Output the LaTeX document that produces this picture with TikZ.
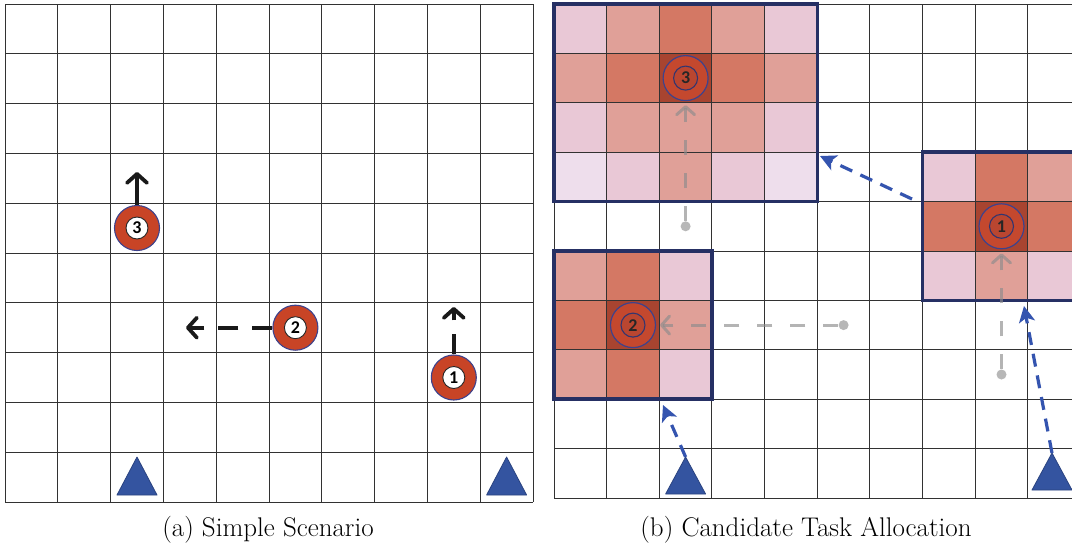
\documentclass[tikz,border=0pt]{standalone}
\usepackage{fontspec}
\newfontfamily\numfont{Carlito}
\usetikzlibrary{arrows.meta}
\definecolor{gridc}{RGB}{50,50,50}
\definecolor{ringred}{RGB}{200,68,38}
\definecolor{ringredb}{RGB}{196,72,46}
\definecolor{ringedge}{RGB}{62,66,140}
\definecolor{coreb}{RGB}{186,70,48}
\definecolor{triblue}{RGB}{52,84,160}
\definecolor{arrblue}{RGB}{52,84,175}
\definecolor{boxnavy}{RGB}{38,48,100}
\definecolor{hA}{RGB}{238,222,236}
\definecolor{hB}{RGB}{233,200,214}
\definecolor{hC}{RGB}{224,160,152}
\definecolor{hD}{RGB}{212,120,100}
\definecolor{hE}{RGB}{168,68,48}
\tikzset{
  gridline/.style={draw=gridc, line width=1pt},
  taskring/.style={circle, fill=ringred, draw=ringedge, line width=1.1pt, minimum size=45pt, inner sep=0pt},
  taskcore/.style={circle, fill=white, draw=black!85, line width=0.9pt, minimum size=22pt, inner sep=0pt, font=\numfont\bfseries\fontsize{18}{18}\selectfont},
  taskringb/.style={circle, fill=ringredb, draw=ringedge, line width=1.2pt, minimum size=45pt, inner sep=0pt},
  taskcoreb/.style={circle, fill=coreb, draw=ringedge!80!black, line width=1.1pt, minimum size=24pt, inner sep=0pt, text=black!85, font=\numfont\bfseries\fontsize{18}{18}\selectfont},
  movearrow/.style={draw=black!90, line width=3.8pt, -{Straight Barb[length=9pt, width=20pt, line cap=round, line join=round]}},
  movedash/.style={movearrow, dash pattern=on 20pt off 14pt},
  ghostarrow/.style={draw=black!45, draw opacity=.65, line width=3pt, dash pattern=on 15pt off 18pt, shorten >=4pt, -{Straight Barb[length=8pt, width=18pt, line cap=round, line join=round]}},
  ghostdot/.style={circle, fill=black!35, fill opacity=.8, minimum size=10pt, inner sep=0pt},
  bluearrow/.style={draw=arrblue, line width=3.2pt, dash pattern=on 13pt off 9pt, -{Stealth[length=16pt, width=16pt, inset=4pt]}},
  heatbox/.style={draw=boxnavy, line width=3.5pt},
  tri/.style={fill=triblue, draw=triblue!80!black, line width=0.8pt, line join=round},
  caption/.style={font=\fontsize{27}{32}\selectfont}
}
\begin{document}
\begin{tikzpicture}[x=1pt, y=-1pt]
\useasboundingbox (0,0) rectangle (1072,550);
\clip (0,0) rectangle (1072,550);
\fill[white] (0,0) rectangle (1072,550);

% ---------- left grid ----------
\foreach \i in {0,...,10} {
  \draw[gridline] ({5+52.8*\i},4) -- ({5+52.8*\i},502);
  \draw[gridline] (5,{4+49.8*\i}) -- (533,{4+49.8*\i});
}

% ---------- right grid: heat cells ----------
\foreach \cc/\rr/\hh in {
  0/0/hB,1/0/hC,2/0/hD,3/0/hC,4/0/hB,
  0/1/hC,1/1/hD,2/1/hE,3/1/hD,4/1/hC,
  0/2/hB,1/2/hC,2/2/hC,3/2/hC,4/2/hB,
  0/3/hA,1/3/hB,2/3/hC,3/3/hB,4/3/hA,
  0/5/hC,1/5/hD,2/5/hB,
  0/6/hD,1/6/hE,2/6/hC,
  0/7/hC,1/7/hD,2/7/hB,
  7/3/hB,8/3/hD,9/3/hC,
  7/4/hD,8/4/hE,9/4/hD,
  7/5/hB,8/5/hC,9/5/hB} {
  \fill[\hh] ({554+52.65*\cc},{4+49.4*\rr}) rectangle ++(52.65,49.4);
}
\foreach \i in {0,...,10} {
  \draw[gridline] ({554+52.65*\i},4) -- ({554+52.65*\i},498);
  \draw[gridline] (554,{4+49.4*\i}) -- (1081,{4+49.4*\i});
}
% candidate regions
\draw[heatbox] (554,4) rectangle (817.25,201.6);
\draw[heatbox] (554,251) rectangle (711.95,399.2);
\draw[heatbox] (922.55,152.2) rectangle (1080.5,300.4);

% ---------- left grid: tasks ----------
\node[taskring] (t3) at (137,228) {};
\node[taskcore] (t3c) at (t3) {3};
\node[taskring] (t2) at (295.4,327.7) {};
\node[taskcore] (t2c) at (t2) {2};
\node[taskring] (t1) at (453.8,377.5) {};
\node[taskcore] (t1c) at (t1) {1};

\coordinate (t3to) at (137,172);
\coordinate (t2to) at (186,327.7);
\coordinate (t1to) at (453.8,307);
\draw[movearrow] (t3) -- (t3to);
\draw[movedash] (t2) -- (t2to);
\draw[movedash] (t1) -- (t1to);

% left agents
\coordinate (la1) at (137,457);
\coordinate (la2) at (506.6,457);
\draw[tri] (la1) -- (117,495) -- (157,495) -- cycle;
\draw[tri] (la2) -- (486.6,495) -- (526.6,495) -- cycle;

% ---------- right grid: tasks ----------
\node[taskringb] (t3b) at (685.6,78.1) {};
\node[taskcoreb] (t3bc) at (t3b) {3};
\node[taskringb] (t2b) at (633,325.1) {};
\node[taskcoreb] (t2bc) at (t2b) {2};
\node[taskringb] (t1b) at (1001.5,226.3) {};
\node[taskcoreb] (t1bc) at (t1b) {1};

% ghost moves
\node[ghostdot] (g3) at (685.6,226.3) {};
\node[ghostdot] (g2) at (843.6,325.1) {};
\node[ghostdot] (g1) at (1001.5,374.5) {};
\draw[ghostarrow] (g3) -- (t3b);
\draw[ghostarrow] (g2) -- (t2b);
\draw[ghostarrow] (g1) -- (t1b);

% right agents
\coordinate (ra1) at (685.6,457);
\coordinate (ra2) at (1052,453);
\coordinate (a1s) at (912,199);
\coordinate (a1e) at (820,156);
\coordinate (a2e) at (663,405);
\coordinate (a3e) at (1024,306);
\draw[bluearrow] (a1s) -- (a1e);
\draw[bluearrow] (ra1) -- (a2e);
\draw[bluearrow] (ra2) -- (a3e);
\draw[tri] (ra1) -- (665.6,494) -- (705.6,494) -- cycle;
\draw[tri] (ra2) -- (1032,490) -- (1072,490) -- cycle;

% captions
\node[caption] (capa) at (268,530) {(a) Simple Scenario};
\node[caption] (capb) at (806,530) {(b) Candidate Task Allocation};
\end{tikzpicture}
\end{document}
